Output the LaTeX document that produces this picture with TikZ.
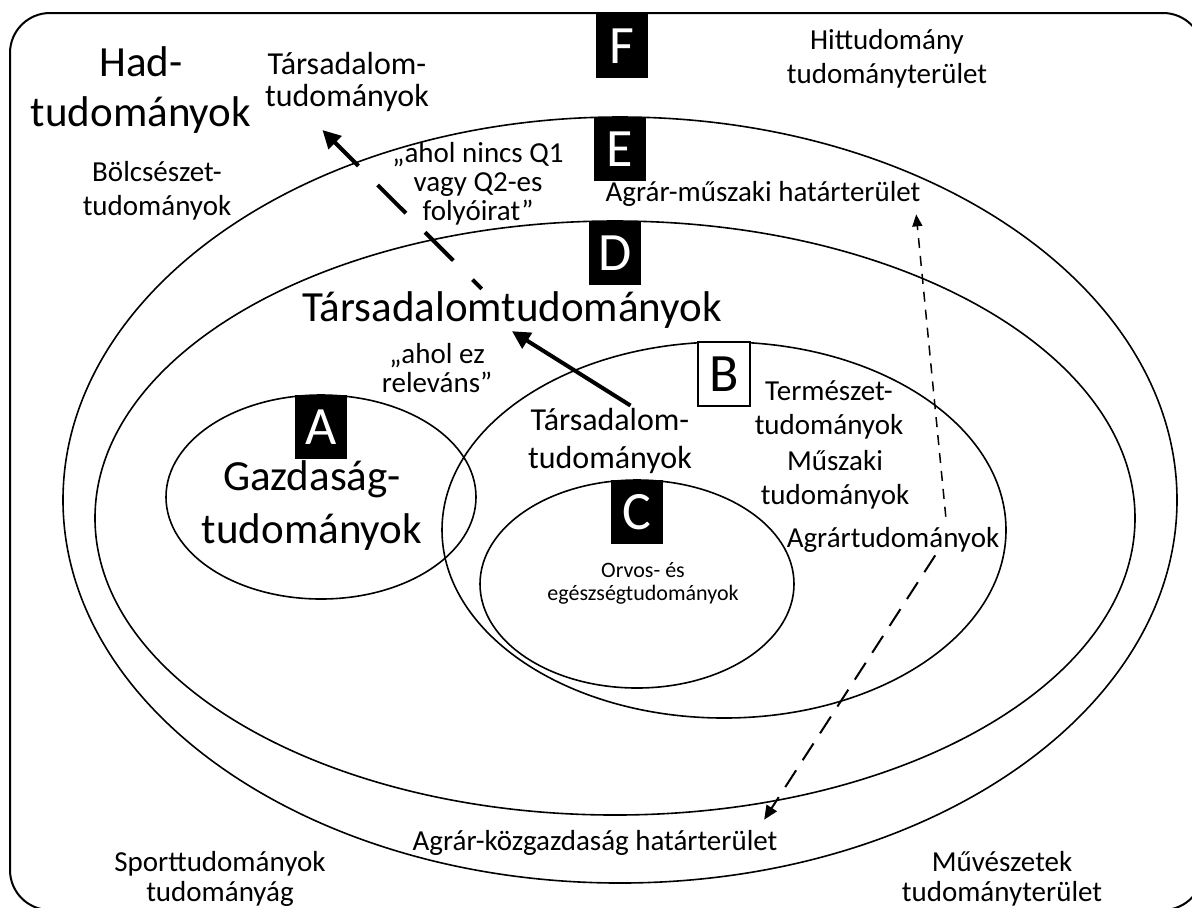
\documentclass[tikz,border=0pt]{standalone}
\usepackage{fontspec}
\setmainfont{Carlito}
\usetikzlibrary{shapes.geometric,arrows.meta}

\newcommand\fs[2]{\fontsize{#1}{#2}\selectfont}

\begin{document}
\begin{tikzpicture}[x=0.5pt, y=-0.5pt, line width=0.8pt,
  zone/.style = {draw, ellipse, inner sep=0pt},
  letter/.style = {fill=black, text=white, minimum width=26pt, minimum height=32pt, inner sep=0pt, font=\fs{27}{30}},
  txt/.style = {align=center, inner sep=1pt, font=\fs{14.5}{17}},
  big/.style = {align=center, inner sep=1pt, font=\fs{21.5}{25}},
  thick arrow/.style = {line width=2pt, -{Triangle[length=9pt,width=9pt]}}]
\useasboundingbox (0,0) rectangle (1192,907);
\clip (0,0) rectangle (1192,907);
\draw[rounded corners=20pt, line width=1pt] (10,13) rectangle (1203,910);
% nested areas
\node[zone, minimum width=557pt, minimum height=383pt] (E) at (620,500) {};
\node[zone, minimum width=520pt, minimum height=297pt] (D) at (615,518) {};
\node[zone, minimum width=282pt, minimum height=188pt] (B) at (724,530) {};
\node[zone, minimum width=157pt, minimum height=104pt] (C) at (637,584) {};
\node[zone, minimum width=155pt, minimum height=102pt] (A) at (321,497) {};
% letters
\node[letter, anchor=north] (lF) at (622,13) {F};
\node[letter, anchor=north] (lE) at (E.north) {E};
\node[letter, anchor=north] (lD) at (D.north) {D};
\node[letter, anchor=north, fill=white, text=black, draw] (lB) at (B.north) {B};
\node[letter, anchor=north] (lC) at (C.north) {C};
\node[letter, anchor=north] (lA) at (A.north) {A};
% labels
\node[big] (had) at (141,90) {Had-\\tudományok};
\node[txt, font=\fs{16}{16}] (tarsF) at (347,82) {Társadalom-\\tudományok};
\node[txt] (bolcs) at (157,191) {Bölcsészet-\\tudományok};
\node[txt, font=\fs{14.5}{14.5}] (q1) at (478,184) {„ahol nincs Q1\\vagy Q2-es\\folyóirat”};
\node[txt] (hit) at (887,59) {Hittudomány\\tudományterület};
\node[txt] (agrmusz) at (763,194) {Agrár-műszaki határterület};
\node[big] (tarsD) at (512,310) {Társadalomtudományok};
\node[txt, font=\fs{14.5}{14.5}] (q2) at (437,368) {„ahol ez\\releváns”};
\node[big, font=\fs{21.5}{26.5}] (gazd) at (312,506) {Gazdaság-\\tudományok};
\node[txt, font=\fs{16}{19}] (tarsB) at (610,441) {Társadalom-\\tudományok};
\node[txt] (termesz) at (829,410) {Természet-\\tudományok};
\node[txt] (muszB) at (835,480) {Műszaki\\tudományok};
\node[txt] (agrar) at (893,540) {Agrártudományok};
\node[txt, font=\fs{11}{11.5}] (orvos) at (643,583) {Orvos- és\\egészségtudományok};
\node[txt] (kozgazd) at (595,843) {Agrár-közgazdaság határterület};
\node[txt, font=\fs{14.5}{15}] (sport) at (220,879) {Sporttudományok\\tudományág};
\node[txt, font=\fs{14.5}{15}] (muv) at (1002,879) {Művészetek\\tudományterület};
% arrows
\draw[thick arrow] (tarsB.60) -- (tarsD.south);
\draw[thick arrow, dash pattern=on 20pt off 13.5pt, dash phase=13.5pt, shorten >=11pt] (tarsD.145) -- (tarsF.219);
\draw[line width=0.75pt, dash pattern=on 5pt off 4pt, shorten <=4pt, -{Triangle[length=6pt,width=5pt]}] (agrar.16) -- ([xshift=-3.5pt,yshift=-2.5pt]agrmusz.south east);
\draw[line width=1pt, dash pattern=on 10pt off 6pt, -{Triangle[length=7pt,width=6pt]}] (agrar.-20) -- ([xshift=-8pt,yshift=4pt]kozgazd.north east);
\end{tikzpicture}
\end{document}
